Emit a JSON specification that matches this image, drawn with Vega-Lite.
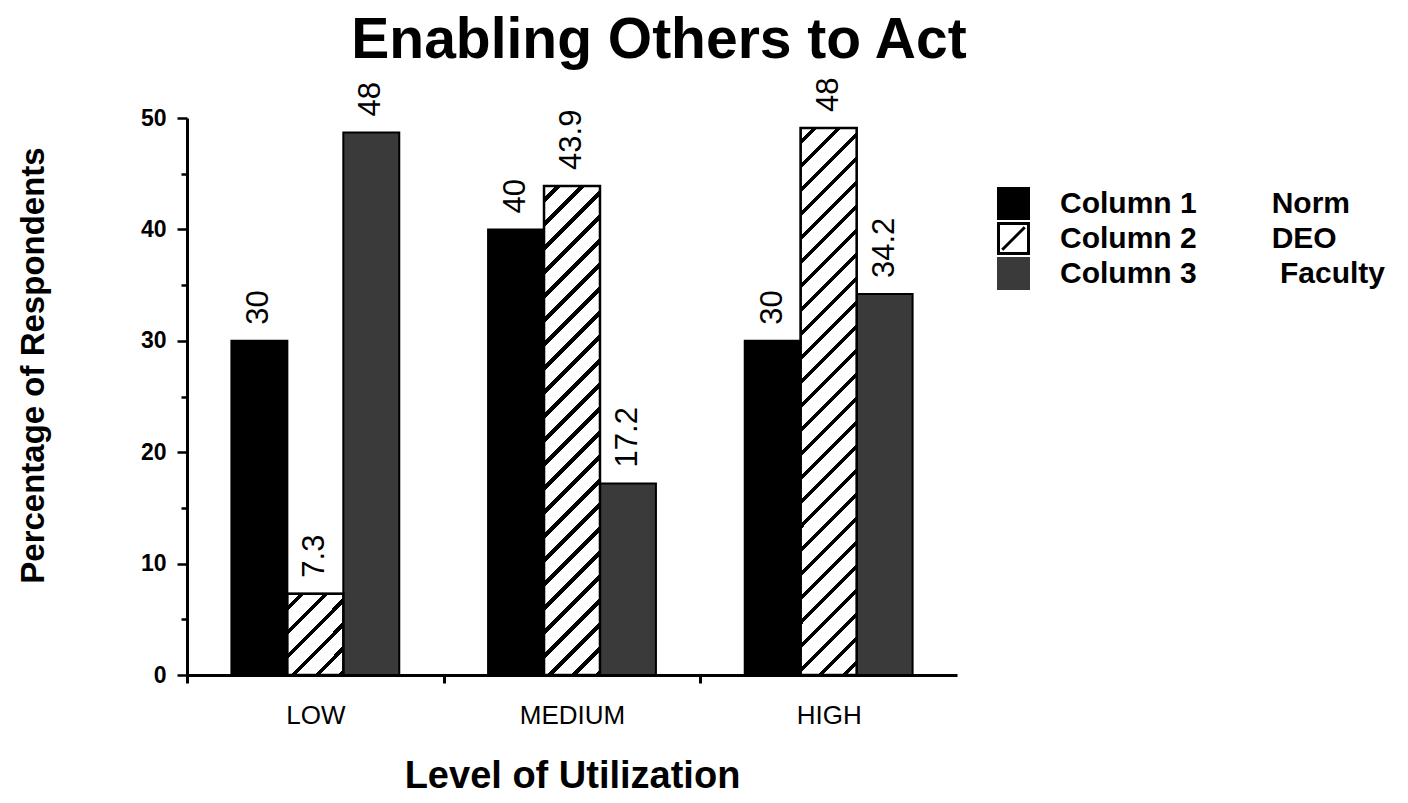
{
  "$schema": "https://vega.github.io/schema/vega-lite/v6.json",
  "width": 770,
  "height": 557,
  "autosize": "none",
  "padding": {"left": 187, "top": 118, "right": 451, "bottom": 128},
  "background": "white",
  "config": {
    "view": {"stroke": null},
    "font": "Liberation Sans"
  },
  "title": {
    "text": "Enabling Others to Act",
    "font": "Liberation Sans",
    "fontSize": 57,
    "fontWeight": "bold",
    "color": "black",
    "anchor": "middle",
    "dx": 87,
    "offset": 8
  },
  "data": {
    "values": [
      {"level": "LOW", "series": "Column 1", "value": 30, "label": "30"},
      {"level": "LOW", "series": "Column 2", "value": 7.3, "label": "7.3"},
      {"level": "LOW", "series": "Column 3", "value": 48.7, "label": "48"},
      {"level": "MEDIUM", "series": "Column 1", "value": 40, "label": "40"},
      {"level": "MEDIUM", "series": "Column 2", "value": 43.9, "label": "43.9"},
      {"level": "MEDIUM", "series": "Column 3", "value": 17.2, "label": "17.2"},
      {"level": "HIGH", "series": "Column 1", "value": 30, "label": "30"},
      {"level": "HIGH", "series": "Column 2", "value": 49.1, "label": "48"},
      {"level": "HIGH", "series": "Column 3", "value": 34.2, "label": "34.2"}
    ]
  },
  "encoding": {
    "x": {
      "field": "level",
      "type": "nominal",
      "scale": {"domain": ["LOW", "MEDIUM", "HIGH"], "paddingInner": 0.346, "paddingOuter": 0.173},
      "axis": {
        "title": "Level of Utilization",
        "titleFont": "Liberation Sans",
        "titleFontSize": 38,
        "titleFontWeight": "bold",
        "titleColor": "black",
        "titlePadding": 29,
        "labelAngle": 0,
        "labelFont": "Liberation Sans",
        "labelFontSize": 26,
        "labelColor": "black",
        "labelPadding": 19,
        "tickOffset": -128.33,
        "labelOffset": 128.33,
        "tickSize": 8,
        "tickWidth": 3,
        "tickColor": "black",
        "domainColor": "black",
        "domainWidth": 3,
        "grid": false
      }
    },
    "xOffset": {
      "field": "series",
      "type": "nominal",
      "scale": {"domain": ["Column 1", "Column 2", "Column 3"], "paddingInner": 0, "paddingOuter": 0}
    },
    "y": {
      "field": "value",
      "type": "quantitative",
      "scale": {"domain": [0, 50], "nice": false, "zero": true},
      "axis": {
        "title": "Percentage of Respondents",
        "titleFont": "Liberation Sans",
        "titleFontSize": 33,
        "titleFontWeight": "bold",
        "titleColor": "black",
        "titleX": -137,
        "titleY": 247,
        "values": [0, 5, 10, 15, 20, 25, 30, 35, 40, 45, 50],
        "labelExpr": "datum.value % 10 === 0 ? datum.label : ''",
        "labelFont": "Liberation Sans",
        "labelFontSize": 23,
        "labelFontWeight": "bold",
        "labelColor": "black",
        "labelPadding": 11,
        "tickSize": {"condition": {"test": "datum.value % 10 === 0", "value": 10}, "value": 6},
        "tickWidth": 2.5,
        "tickColor": "black",
        "domainColor": "black",
        "domainWidth": 3,
        "grid": false
      }
    }
  },
  "layer": [
    {
      "mark": {"type": "bar", "stroke": "black", "strokeWidth": 2},
      "encoding": {
        "color": {
          "field": "series",
          "type": "nominal",
          "scale": {"domain": ["Column 1", "Column 2", "Column 3"], "range": ["#000000", "#ffffff", "#3a3a3a"]},
          "legend": {
            "title": null,
            "orient": "none",
            "legendX": 810,
            "legendY": 68,
            "symbolType": "M-1,-1H1V1H-1Z M-0.75,0.75L0.75,-0.75",
            "symbolSize": 900,
            "symbolStrokeColor": "black",
            "symbolStrokeWidth": 3,
            "symbolOpacity": 1,
            "labelFont": "Liberation Sans",
            "labelFontSize": 30,
            "labelFontWeight": "bold",
            "labelColor": "black",
            "labelOffset": 30,
            "labelLimit": 500,
            "rowPadding": 0,
            "clipHeight": 35,
            "labelExpr": "datum.label == 'Column 1' ? datum.label + '\u00a0\u00a0\u00a0\u00a0\u00a0\u00a0\u00a0\u00a0\u00a0Norm' : datum.label == 'Column 2' ? datum.label + '\u00a0\u00a0\u00a0\u00a0\u00a0\u00a0\u00a0\u00a0\u00a0DEO' : datum.label + '\u00a0\u00a0\u00a0\u00a0\u00a0\u00a0\u00a0\u00a0\u00a0\u00a0Faculty'",
            "encode": {"symbols": {"update": {"stroke": {"signal": "datum.value === 'Column 3' ? '#3a3a3a' : 'black'"}, "strokeWidth": {"value": 3}}}}
          }
        }
      }
    },
    {
      "transform": [{"filter": "datum.series == 'Column 2' && datum.level == 'LOW'"}],
      "mark": {
        "type": "bar",
        "stroke": "black",
        "strokeWidth": 2.5,
        "fill": {
          "gradient": "linear", "x1": 0, "y1": 0, "x2": 0.7888, "y2": 1.1455,
          "stops": [
            {"offset": 0.08739, "color": "#fff"}, {"offset": 0.08739, "color": "#000"}, {"offset": 0.12584, "color": "#000"}, {"offset": 0.12584, "color": "#fff"},
            {"offset": 0.26216, "color": "#fff"}, {"offset": 0.26216, "color": "#000"}, {"offset": 0.30061, "color": "#000"}, {"offset": 0.30061, "color": "#fff"},
            {"offset": 0.43693, "color": "#fff"}, {"offset": 0.43693, "color": "#000"}, {"offset": 0.47538, "color": "#000"}, {"offset": 0.47538, "color": "#fff"},
            {"offset": 0.6117, "color": "#fff"}, {"offset": 0.6117, "color": "#000"}, {"offset": 0.65015, "color": "#000"}, {"offset": 0.65015, "color": "#fff"},
            {"offset": 0.78647, "color": "#fff"}, {"offset": 0.78647, "color": "#000"}, {"offset": 0.82492, "color": "#000"}, {"offset": 0.82492, "color": "#fff"},
            {"offset": 0.96124, "color": "#fff"}, {"offset": 0.96124, "color": "#000"}, {"offset": 0.99969, "color": "#000"}, {"offset": 0.99969, "color": "#fff"}
          ]
        }
      },
      "encoding": {}
    },
    {
      "transform": [{"filter": "datum.series == 'Column 2' && datum.level == 'MEDIUM'"}],
      "mark": {
        "type": "bar",
        "stroke": "black",
        "strokeWidth": 2.5,
        "fill": {
          "gradient": "linear", "x1": 0, "y1": 0, "x2": 0.12597, "y2": 1.10008,
          "stops": [
            {"offset": 0.02202, "color": "#fff"}, {"offset": 0.02202, "color": "#000"}, {"offset": 0.0317, "color": "#000"}, {"offset": 0.0317, "color": "#fff"},
            {"offset": 0.06605, "color": "#fff"}, {"offset": 0.06605, "color": "#000"}, {"offset": 0.07574, "color": "#000"}, {"offset": 0.07574, "color": "#fff"},
            {"offset": 0.11008, "color": "#fff"}, {"offset": 0.11008, "color": "#000"}, {"offset": 0.11977, "color": "#000"}, {"offset": 0.11977, "color": "#fff"},
            {"offset": 0.15412, "color": "#fff"}, {"offset": 0.15412, "color": "#000"}, {"offset": 0.1638, "color": "#000"}, {"offset": 0.1638, "color": "#fff"},
            {"offset": 0.19815, "color": "#fff"}, {"offset": 0.19815, "color": "#000"}, {"offset": 0.20784, "color": "#000"}, {"offset": 0.20784, "color": "#fff"},
            {"offset": 0.24218, "color": "#fff"}, {"offset": 0.24218, "color": "#000"}, {"offset": 0.25187, "color": "#000"}, {"offset": 0.25187, "color": "#fff"},
            {"offset": 0.28622, "color": "#fff"}, {"offset": 0.28622, "color": "#000"}, {"offset": 0.2959, "color": "#000"}, {"offset": 0.2959, "color": "#fff"},
            {"offset": 0.33025, "color": "#fff"}, {"offset": 0.33025, "color": "#000"}, {"offset": 0.33994, "color": "#000"}, {"offset": 0.33994, "color": "#fff"},
            {"offset": 0.37428, "color": "#fff"}, {"offset": 0.37428, "color": "#000"}, {"offset": 0.38397, "color": "#000"}, {"offset": 0.38397, "color": "#fff"},
            {"offset": 0.41832, "color": "#fff"}, {"offset": 0.41832, "color": "#000"}, {"offset": 0.428, "color": "#000"}, {"offset": 0.428, "color": "#fff"},
            {"offset": 0.46235, "color": "#fff"}, {"offset": 0.46235, "color": "#000"}, {"offset": 0.47204, "color": "#000"}, {"offset": 0.47204, "color": "#fff"},
            {"offset": 0.50638, "color": "#fff"}, {"offset": 0.50638, "color": "#000"}, {"offset": 0.51607, "color": "#000"}, {"offset": 0.51607, "color": "#fff"},
            {"offset": 0.55042, "color": "#fff"}, {"offset": 0.55042, "color": "#000"}, {"offset": 0.5601, "color": "#000"}, {"offset": 0.5601, "color": "#fff"},
            {"offset": 0.59445, "color": "#fff"}, {"offset": 0.59445, "color": "#000"}, {"offset": 0.60414, "color": "#000"}, {"offset": 0.60414, "color": "#fff"},
            {"offset": 0.63848, "color": "#fff"}, {"offset": 0.63848, "color": "#000"}, {"offset": 0.64817, "color": "#000"}, {"offset": 0.64817, "color": "#fff"},
            {"offset": 0.68252, "color": "#fff"}, {"offset": 0.68252, "color": "#000"}, {"offset": 0.6922, "color": "#000"}, {"offset": 0.6922, "color": "#fff"},
            {"offset": 0.72655, "color": "#fff"}, {"offset": 0.72655, "color": "#000"}, {"offset": 0.73624, "color": "#000"}, {"offset": 0.73624, "color": "#fff"},
            {"offset": 0.77058, "color": "#fff"}, {"offset": 0.77058, "color": "#000"}, {"offset": 0.78027, "color": "#000"}, {"offset": 0.78027, "color": "#fff"},
            {"offset": 0.81462, "color": "#fff"}, {"offset": 0.81462, "color": "#000"}, {"offset": 0.8243, "color": "#000"}, {"offset": 0.8243, "color": "#fff"},
            {"offset": 0.85865, "color": "#fff"}, {"offset": 0.85865, "color": "#000"}, {"offset": 0.86834, "color": "#000"}, {"offset": 0.86834, "color": "#fff"},
            {"offset": 0.90268, "color": "#fff"}, {"offset": 0.90268, "color": "#000"}, {"offset": 0.91237, "color": "#000"}, {"offset": 0.91237, "color": "#fff"},
            {"offset": 0.94672, "color": "#fff"}, {"offset": 0.94672, "color": "#000"}, {"offset": 0.9564, "color": "#000"}, {"offset": 0.9564, "color": "#fff"},
            {"offset": 0.99075, "color": "#fff"}, {"offset": 0.99075, "color": "#000"}, {"offset": 1, "color": "#000"}
          ]
        }
      },
      "encoding": {}
    },
    {
      "transform": [{"filter": "datum.series == 'Column 2' && datum.level == 'HIGH'"}],
      "mark": {
        "type": "bar",
        "stroke": "black",
        "strokeWidth": 2.5,
        "fill": {
          "gradient": "linear", "x1": 0, "y1": 0, "x2": 0.11169, "y2": 1.09095,
          "stops": [
            {"offset": 0.0199, "color": "#fff"}, {"offset": 0.0199, "color": "#000"}, {"offset": 0.02866, "color": "#000"}, {"offset": 0.02866, "color": "#fff"},
            {"offset": 0.05971, "color": "#fff"}, {"offset": 0.05971, "color": "#000"}, {"offset": 0.06846, "color": "#000"}, {"offset": 0.06846, "color": "#fff"},
            {"offset": 0.09951, "color": "#fff"}, {"offset": 0.09951, "color": "#000"}, {"offset": 0.10827, "color": "#000"}, {"offset": 0.10827, "color": "#fff"},
            {"offset": 0.13931, "color": "#fff"}, {"offset": 0.13931, "color": "#000"}, {"offset": 0.14807, "color": "#000"}, {"offset": 0.14807, "color": "#fff"},
            {"offset": 0.17911, "color": "#fff"}, {"offset": 0.17911, "color": "#000"}, {"offset": 0.18787, "color": "#000"}, {"offset": 0.18787, "color": "#fff"},
            {"offset": 0.21892, "color": "#fff"}, {"offset": 0.21892, "color": "#000"}, {"offset": 0.22767, "color": "#000"}, {"offset": 0.22767, "color": "#fff"},
            {"offset": 0.25872, "color": "#fff"}, {"offset": 0.25872, "color": "#000"}, {"offset": 0.26748, "color": "#000"}, {"offset": 0.26748, "color": "#fff"},
            {"offset": 0.29852, "color": "#fff"}, {"offset": 0.29852, "color": "#000"}, {"offset": 0.30728, "color": "#000"}, {"offset": 0.30728, "color": "#fff"},
            {"offset": 0.33833, "color": "#fff"}, {"offset": 0.33833, "color": "#000"}, {"offset": 0.34708, "color": "#000"}, {"offset": 0.34708, "color": "#fff"},
            {"offset": 0.37813, "color": "#fff"}, {"offset": 0.37813, "color": "#000"}, {"offset": 0.38688, "color": "#000"}, {"offset": 0.38688, "color": "#fff"},
            {"offset": 0.41793, "color": "#fff"}, {"offset": 0.41793, "color": "#000"}, {"offset": 0.42669, "color": "#000"}, {"offset": 0.42669, "color": "#fff"},
            {"offset": 0.45773, "color": "#fff"}, {"offset": 0.45773, "color": "#000"}, {"offset": 0.46649, "color": "#000"}, {"offset": 0.46649, "color": "#fff"},
            {"offset": 0.49754, "color": "#fff"}, {"offset": 0.49754, "color": "#000"}, {"offset": 0.50629, "color": "#000"}, {"offset": 0.50629, "color": "#fff"},
            {"offset": 0.53734, "color": "#fff"}, {"offset": 0.53734, "color": "#000"}, {"offset": 0.5461, "color": "#000"}, {"offset": 0.5461, "color": "#fff"},
            {"offset": 0.57714, "color": "#fff"}, {"offset": 0.57714, "color": "#000"}, {"offset": 0.5859, "color": "#000"}, {"offset": 0.5859, "color": "#fff"},
            {"offset": 0.61695, "color": "#fff"}, {"offset": 0.61695, "color": "#000"}, {"offset": 0.6257, "color": "#000"}, {"offset": 0.6257, "color": "#fff"},
            {"offset": 0.65675, "color": "#fff"}, {"offset": 0.65675, "color": "#000"}, {"offset": 0.66551, "color": "#000"}, {"offset": 0.66551, "color": "#fff"},
            {"offset": 0.69655, "color": "#fff"}, {"offset": 0.69655, "color": "#000"}, {"offset": 0.70531, "color": "#000"}, {"offset": 0.70531, "color": "#fff"},
            {"offset": 0.73635, "color": "#fff"}, {"offset": 0.73635, "color": "#000"}, {"offset": 0.74511, "color": "#000"}, {"offset": 0.74511, "color": "#fff"},
            {"offset": 0.77616, "color": "#fff"}, {"offset": 0.77616, "color": "#000"}, {"offset": 0.78491, "color": "#000"}, {"offset": 0.78491, "color": "#fff"},
            {"offset": 0.81596, "color": "#fff"}, {"offset": 0.81596, "color": "#000"}, {"offset": 0.82472, "color": "#000"}, {"offset": 0.82472, "color": "#fff"},
            {"offset": 0.85576, "color": "#fff"}, {"offset": 0.85576, "color": "#000"}, {"offset": 0.86452, "color": "#000"}, {"offset": 0.86452, "color": "#fff"},
            {"offset": 0.89557, "color": "#fff"}, {"offset": 0.89557, "color": "#000"}, {"offset": 0.90432, "color": "#000"}, {"offset": 0.90432, "color": "#fff"},
            {"offset": 0.93537, "color": "#fff"}, {"offset": 0.93537, "color": "#000"}, {"offset": 0.94413, "color": "#000"}, {"offset": 0.94413, "color": "#fff"},
            {"offset": 0.97517, "color": "#fff"}, {"offset": 0.97517, "color": "#000"}, {"offset": 0.98393, "color": "#000"}, {"offset": 0.98393, "color": "#fff"}
          ]
        }
      },
      "encoding": {}
    },
    {
      "mark": {
        "type": "text",
        "angle": 270,
        "align": "left",
        "baseline": "middle",
        "dx": 16,
        "font": "Liberation Sans",
        "fontSize": 31,
        "color": "black"
      },
      "encoding": {
        "text": {"field": "label", "type": "nominal"}
      }
    }
  ]
}
